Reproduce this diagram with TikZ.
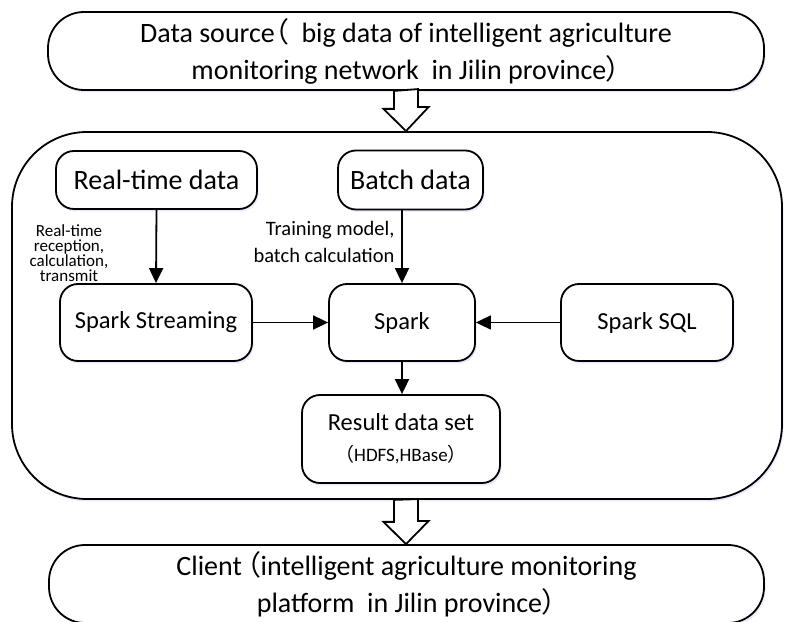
\documentclass[tikz,border=0pt]{standalone}
\usepackage{fontspec}
\setmainfont{Carlito}
\newfontfamily\cjk[RawFeature=+palt]{Noto Sans CJK SC}
\usetikzlibrary{arrows.meta,shadows}

\begin{document}
\begin{tikzpicture}[x=1pt, y=1pt,
    box/.style = {draw, line width=1.8pt, fill=white, rounded corners=18pt, align=center,
                  drop shadow={shadow xshift=1.5pt, shadow yshift=-2.5pt, fill=blue!25, opacity=0.35}},
    big/.style = {font=\fontsize{28}{37}\selectfont},
    mid/.style = {font=\fontsize{24.5}{31}\selectfont},
    flow/.style = {line width=1.8pt, -{Triangle[length=15pt,width=14pt]}},
    hollow/.style = {line width=1.8pt, fill=white, line join=miter}]
    \useasboundingbox (0,0) rectangle (792,621);

    % outer frame of the processing part
    \node[box, rounded corners=75pt, minimum width=770pt, minimum height=367pt] (cluster) at (397,305.5) {};

    \node[box, big, rounded corners=36pt, minimum width=716pt, minimum height=78pt] (source) at (406,570)
        {Data source{\cjk （}~ big data of intelligent agriculture\\monitoring network~ in Jilin province{\cjk ）}};
    \node[box, big, rounded corners=36pt, minimum width=715pt, minimum height=78pt] (client) at (406.5,37)
        {Client\,{\cjk （}intelligent agriculture monitoring\\platform~ in Jilin province{\cjk ）}};

    \node[box, big, minimum width=201pt, minimum height=58pt] (realtime) at (156.5,441) {Real-time data};
    \node[box, big, minimum width=145pt, minimum height=59pt] (batch) at (410.5,441) {Batch data};

    \node[box, mid, minimum width=192pt, minimum height=77pt] (streaming) at (156,298.5) {Spark Streaming};
    \node[box, mid, minimum width=146pt, minimum height=77pt] (spark) at (402,298.5) {Spark};
    \node[box, mid, minimum width=172pt, minimum height=77pt] (sql) at (647,298.5) {Spark SQL};
    \node[box, mid, minimum width=198pt, minimum height=88pt] (result) at (401,182)
        {Result data set\\{\fontsize{19}{31}\selectfont{\cjk （}HDFS,HBase{\cjk ）}}};

    \node[font={\fontsize{17}{15}\selectfont\lineskiplimit=-20pt\relax}, align=center] (rtlabel) at (69,368)
        {Real-time\\reception,\\calculation,\\transmit};
    \node[font=\fontsize{20.5}{27}\selectfont, align=right, anchor=east] (batchlabel) at (398,379.5)
        {Training model,\\batch calculation};

    \draw[flow] (realtime.south) -- (streaming.north);
    \draw[flow] (spark.north |- batch.south) -- (spark.north);
    \draw[flow] (streaming.east) -- (spark.west);
    \draw[flow] (sql.west) -- (spark.east);
    \draw[flow] (spark.south) -- (spark.south |- result.north);

    % hollow arrows between the three layers
    \draw[hollow] ([xshift=-12pt]source.south) -- ++(0,-18) -- ++(-10.5,0) -- (source.south |- cluster.north)
        -- ++(22.5,24) -- ++(-10.5,0) -- ++(0,18) -- cycle;
    \draw[hollow] (source.south |- cluster.south) ++(-12,0) -- ++(0,-22) -- ++(-10.5,0) -- (source.south |- client.north)
        -- ++(22.5,23) -- ++(-10.5,0) -- ++(0,22) -- cycle;
\end{tikzpicture}
\end{document}
